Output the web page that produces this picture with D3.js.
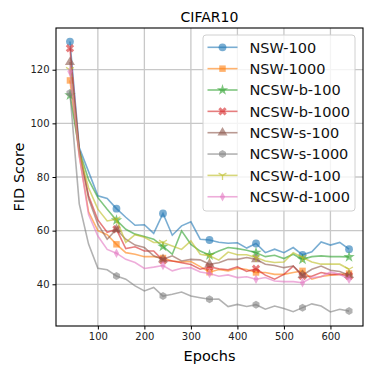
<!DOCTYPE html>
<html>
<head>
<meta charset="utf-8">
<script src="https://cdn.jsdelivr.net/npm/d3@7"></script>
<style>
body { margin:0; background:#fff; }
text { font-family: "DejaVu Sans", sans-serif; }
.tick text { font-size:10px; fill:#222; }
.tick line { stroke:#000; }
.domain { display:none; }
</style>
</head>
<body>
<svg id="chart"></svg>
<script>
// epochs (one point every 20, marker every 100)
var epochs = [40,60,80,100,120,140,160,180,200,220,240,260,280,300,320,340,360,380,400,420,440,460,480,500,520,540,560,580,600,620,640];

var nsw100   = [130.5,91,82,73,72,68.2,65,62,62.2,59,66.4,58.3,61.8,63.3,56.8,56.5,55.7,55.3,55.5,53.5,55.2,51.8,53.1,51.8,53.7,51.0,52.1,55.8,54.6,55.6,53.1];
var nsw1000  = [116,88,67,60,58.5,54.9,51.8,51.2,50.3,50.3,49.8,48.7,48.3,48.5,46.6,44.5,45.5,45,46,45.5,44.4,44.4,43.7,43.7,44.4,45,41.9,42.9,43.4,43.7,44];
var ncswb100 = [110.5,90,79,72.3,68,63.9,60.5,58.7,57.8,56.8,54.1,51.2,59.9,54.9,52.4,50.9,52.4,53.7,53.3,52.7,51.8,50.3,50.8,49.6,51.2,49.3,50.3,50.6,50.3,50.3,50.2];
var ncswb1000= [128,90,73,64,59.4,60.5,53.3,54,52.4,52.4,48.9,48.7,48,47.4,45.6,46.5,45.8,45.4,46.5,44.8,45.8,43.4,41.9,43.7,46.8,43.1,43,44.4,43.7,43.7,43.1];
var ncsws100 = [122.8,90,72,62.4,56.8,60.5,56.8,54.6,53.7,50.6,49.3,50.6,48.7,49.3,49.1,47.5,48,49.3,49.3,50,49.3,47.5,47,46.2,46.8,43.4,45.6,46.8,45.2,44.8,43.4];
var ncsws1000= [111.3,70,55,46,45.4,43.1,41.9,39.4,37.5,38.8,35.6,36.3,37.1,35.6,35,34.4,34.5,31.7,32.5,31.7,32.4,30.7,31.9,31,29.8,31.3,32.7,31.9,29.7,30.7,30];
var ncswd100 = [120,89,76,68,63.6,64.3,55.6,58.5,57.5,55.6,55.6,54.3,53,56.2,51.2,50.6,49,52,51,51,50,48.7,48.1,48.3,51.8,50,48.3,47.5,47.5,47.5,45.6];
var ncswd1000= [119.3,88,66,58,53,51.6,49.3,48.1,45.9,46.4,47,45,46,46.2,44.6,44,43,43.5,42.5,42.8,41.9,42.5,41.2,41,41,40.6,42.5,42.8,44.6,43.7,41.9];

var seriesNames = ["NSW-100","NSW-1000","NCSW-b-100","NCSW-b-1000","NCSW-s-100","NCSW-s-1000","NCSW-d-100","NCSW-d-1000"];
var seriesValues = [nsw100,nsw1000,ncswb100,ncswb1000,ncsws100,ncsws1000,ncswd100,ncswd1000];
var colors = ["#1f77b4","#ff7f0e","#2ca02c","#d62728","#8c564b","#7f7f7f","#bcbd22","#e377c2"];
var markers = ["circle","square","star","x","triangle","hexagon","tri_down","thin_diamond"];

var xTicks = [100,200,300,400,500,600];
var yTicks = [40,60,80,100,120];

var screen = {width:374,height:374};
var margins = {left:56,right:11,top:28,bottom:48};
var graph = {
    width:screen.width-margins.left-margins.right,
    height:screen.height-margins.top-margins.bottom
};

var xScale = d3.scaleLinear().domain([10,670]).range([0,graph.width]);
var yScale = d3.scaleLinear().domain([24.45,135.55]).range([graph.height,0]);

var svg = d3.select("#chart")
    .attr("width",screen.width)
    .attr("height",screen.height);

var plot = svg.append("g")
    .attr("transform","translate("+margins.left+","+margins.top+")");

// marker path, centered on 0,0
var markerPath = function(kind)
{
    if (kind=="circle") return d3.symbol(d3.symbolCircle,48)();
    if (kind=="square") return d3.symbol(d3.symbolSquare,42)();
    if (kind=="star") return d3.symbol(d3.symbolStar,40)();
    if (kind=="x") return d3.symbol(d3.symbolCross,44)();
    if (kind=="triangle") return d3.symbol(d3.symbolTriangle,44)();
    if (kind=="hexagon") {
        var pts = d3.range(6).map(function(i){
            var a = Math.PI/6 + i*Math.PI/3;
            return [4*Math.cos(a),4*Math.sin(a)];});
        return "M"+pts.join("L")+"Z";
    }
    if (kind=="tri_down") return "M0,0L0,4.5M0,0L-3.9,-2.3M0,0L3.9,-2.3";
    if (kind=="thin_diamond") return "M0,-4.8L2.6,0L0,4.8L-2.6,0Z";
}

var drawMarker = function(g,kind,color,x,y)
{
    var p = g.append("path")
        .attr("d",markerPath(kind))
        .attr("transform","translate("+x+","+y+")"+(kind=="x"?" rotate(45)":""));
    if (kind=="tri_down") {
        p.attr("fill","none").attr("stroke",color).attr("stroke-width",1.3).attr("stroke-opacity",0.6);
    } else {
        p.attr("fill",color).attr("fill-opacity",0.6).attr("stroke","none");
    }
}

var drawGrid = function()
{
    var grid = plot.append("g");
    grid.selectAll(".gx").data(xTicks).enter().append("line")
        .attr("x1",function(d){return xScale(d);})
        .attr("x2",function(d){return xScale(d);})
        .attr("y1",0).attr("y2",graph.height)
        .attr("stroke","#c8c8c8").attr("stroke-width",1.3);
    grid.selectAll(".gy").data(yTicks).enter().append("line")
        .attr("y1",function(d){return yScale(d);})
        .attr("y2",function(d){return yScale(d);})
        .attr("x1",0).attr("x2",graph.width)
        .attr("stroke","#c8c8c8").attr("stroke-width",1.3);
}

var drawLines = function()
{
    seriesValues.forEach(function(vals,i){
        var pts = epochs.map(function(e,j){return {x:e,y:vals[j]};});
        var line = d3.line()
            .x(function(d){return xScale(d.x);})
            .y(function(d){return yScale(d.y);});
        plot.append("path")
            .datum(pts)
            .attr("d",line)
            .attr("fill","none")
            .attr("stroke",colors[i])
            .attr("stroke-width",1.6)
            .attr("stroke-opacity",0.6);
        var mg = plot.append("g");
        pts.forEach(function(d,j){
            if (j%5==0) drawMarker(mg,markers[i],colors[i],xScale(d.x),yScale(d.y));
        });
    });
}

var drawAxes = function()
{
    var xAxis = d3.axisBottom(xScale).tickValues(xTicks).tickSize(3.5).tickPadding(3);
    var yAxis = d3.axisLeft(yScale).tickValues(yTicks).tickSize(3.5).tickPadding(3);
    plot.append("g")
        .attr("transform","translate(0,"+graph.height+")")
        .call(xAxis);
    plot.append("g").call(yAxis);
    plot.append("rect")
        .attr("width",graph.width).attr("height",graph.height)
        .attr("fill","none").attr("stroke","#000").attr("stroke-width",1.1);
}

var drawLabels = function()
{
    svg.append("text")
        .text("CIFAR10")
        .attr("text-anchor","middle")
        .attr("x",margins.left+graph.width/2)
        .attr("y",22)
        .attr("font-size","14px");
    svg.append("text")
        .text("Epochs")
        .attr("text-anchor","middle")
        .attr("x",margins.left+graph.width/2)
        .attr("y",361)
        .attr("font-size","14.5px");
    svg.append("g")
        .attr("transform","translate(24,"+(margins.top+graph.height/2)+")")
        .append("text")
        .text("FID Score")
        .attr("text-anchor","middle")
        .attr("transform","rotate(-90)")
        .attr("font-size","14.5px");
}

var drawLegend = function()
{
    var lg = svg.append("g").attr("transform","translate(203,35)");
    lg.append("rect")
        .attr("width",152).attr("height",176)
        .attr("rx",3)
        .attr("fill","#fff").attr("fill-opacity",0.8)
        .attr("stroke","#d0d0d0");
    seriesNames.forEach(function(name,i){
        var y = 12.3 + i*21.35;
        lg.append("line")
            .attr("x1",4.5).attr("x2",34.5)
            .attr("y1",y).attr("y2",y)
            .attr("stroke",colors[i]).attr("stroke-width",1.6).attr("stroke-opacity",0.6);
        drawMarker(lg,markers[i],colors[i],19.5,y);
        lg.append("text")
            .text(name)
            .attr("x",46.5)
            .attr("y",y+5.2)
            .attr("font-size","14.5px")
            .attr("fill","#111");
    });
}

drawGrid();
drawLines();
drawAxes();
drawLabels();
drawLegend();
</script>
</body>
</html>
